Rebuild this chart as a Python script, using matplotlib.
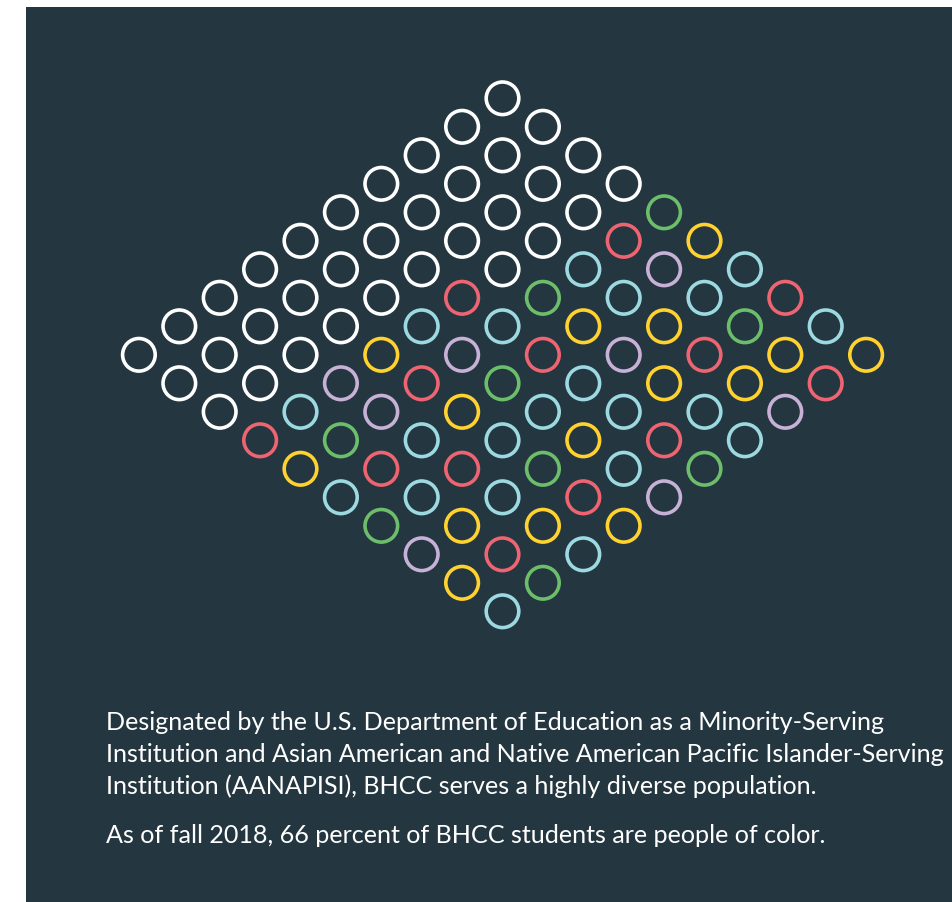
import matplotlib
matplotlib.use("Agg")
import matplotlib.pyplot as plt
from matplotlib.patches import Rectangle

# ---- data -------------------------------------------------------------
# 10x10 grid of students (rotated 45° into a diamond).
# grid_rows[i][j]: i = steps down-left from the top circle, j = steps down-right.
# W = white (not people of color), others = people of color groups.
grid_rows = [
    "WWWWGYCRCY",
    "WWWWRPCGYR",
    "WWWWCCYRYP",
    "WWWWGYPYCC",
    "WWWRCRCCRG",
    "WWWCPGCYCP",
    "WWWYRYCGRY",
    "WWWPPCRCYC",
    "WWWCGRCYRG",
    "WWWRYCGPYC",
]
palette = {
    "W": "#FFFFFF",
    "G": "#6DBE6A",
    "R": "#EE6471",
    "Y": "#FFD230",
    "C": "#9CD9E1",
    "P": "#C8B1D6",
}
text_lines = [
    "Designated by the U.S. Department of Education as a Minority-Serving",
    "Institution and Asian American and Native American Pacific Islander-Serving",
    "Institution (AANAPISI), BHCC serves a highly diverse population.",
]
text_last = "As of fall 2018, 66 percent of BHCC students are people of color."

# ---- figure -----------------------------------------------------------
W, H, DPI = 953, 903, 100
fig = plt.figure(figsize=(W / DPI, H / DPI), dpi=DPI, facecolor="white")
BG = "#243640"

ax = fig.add_axes([0, 0, 1, 1])
ax.set_zorder(1)
ax.set_facecolor("none")
ax.axis("off")

panel = Rectangle((26 / W, 0), 1 - 26 / W, (H - 8) / H,
                  transform=fig.transFigure, facecolor=BG,
                  edgecolor="none", zorder=-5)
fig.add_artist(panel)

# pixel geometry of the lattice
cx, top_y, dx, dy = 502.5, 99.3, 40.4, 28.5
ax.set_xlim((0 - cx) / dx, (W - cx) / dx)
ax.set_ylim((H - top_y) / dy, (0 - top_y) / dy)

xs, ys, cs = [], [], []
for i, row in enumerate(grid_rows):
    for j, code in enumerate(row):
        xs.append(j - i)
        ys.append(i + j)
        cs.append(palette[code])

diam_pt = 32.6 * 72 / DPI
ax.scatter(xs, ys, s=diam_pt ** 2, facecolors="none", edgecolors=cs,
           linewidths=3.6 * 72 / DPI, zorder=3, clip_on=False)

# ---- text -------------------------------------------------------------
family = ["Lato", "DejaVu Sans"]
fs = 16
probe = fig.text(0, 0, text_lines[1], fontsize=fs, family=family)
fig.canvas.draw()
wpx = probe.get_window_extent().width
probe.remove()
fs = fs * 843 / wpx

x0 = 106 / W
baselines = [730, 762, 794, 843]
for line, b in zip(text_lines + [text_last], baselines):
    t = fig.text(x0, 1 - b / H, line, fontsize=fs, family=family, color="white",
                 va="baseline", ha="left")
    t.set_zorder(5)

fig.savefig("out.png", dpi=DPI, facecolor=fig.get_facecolor())
